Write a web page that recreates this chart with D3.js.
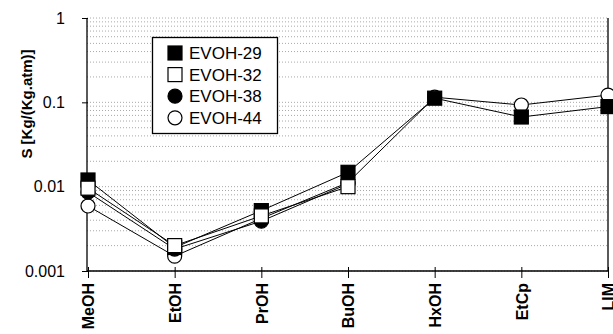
<!DOCTYPE html>
<html><head><meta charset="utf-8">
<script src="https://cdn.jsdelivr.net/npm/d3@7"></script>
<style>body{margin:0;background:#fff}svg{display:block}</style>
</head><body><svg id="c" width="613" height="334"></svg>
<script>
const categories = ["MeOH","EtOH","PrOH","BuOH","HxOH","EtCp","LIM"];
const seriesNames = ["EVOH-29","EVOH-32","EVOH-38","EVOH-44"];
const evoh29 = [0.012, 0.0019, 0.0052, 0.0148, 0.112, 0.067, 0.089];
const evoh32 = [0.0096, 0.0020, 0.0045, 0.0100, null, null, null];
const evoh38 = [0.0086, 0.00182, 0.0039, 0.0108, null, null, null];
const evoh44 = [0.0059, 0.0015, 0.0042, 0.0112, 0.115, 0.093, 0.122];
const yTicks = [0.001, 0.01, 0.1, 1];
const yTickLabels = ["0.001","0.01","0.1","1"];
const yTitle = "S [Kg/(Kg.atm)]";

const svg = d3.select("#c");
const L = 87, R = 608, T = 18, B = 271;
const x = d3.scalePoint().domain(categories).range([L+1, R]);
const y = d3.scaleLog().domain([0.001, 1]).range([B, T]);

// gridlines
const grid = [];
[0.001,0.01,0.1].forEach(d=>{for(let k=1;k<=9;k++) grid.push(d*k);});
grid.push(1);
svg.append("g").selectAll("line").data(grid).join("line")
  .attr("x1", L).attr("x2", R).attr("y1", d=>y(d)).attr("y2", d=>y(d))
  .attr("stroke", "#a8a8a8").attr("stroke-width", 1).attr("stroke-dasharray", "1 2");

// axes
const yAxis = svg.append("g").attr("transform", `translate(${L},0)`)
  .call(d3.axisLeft(y).tickValues(yTicks).tickFormat((d,i)=>yTickLabels[i]).tickSize(5).tickPadding(17));
yAxis.select(".domain").remove();
yAxis.selectAll(".tick line").attr("x2", -5).attr("x1", 1).attr("stroke","#000");
yAxis.selectAll("text").attr("font-family","Arial, 'Liberation Sans', sans-serif").attr("font-size","16px").attr("fill","#000");
svg.append("line").attr("x1",L).attr("x2",L).attr("y1",T).attr("y2",B).attr("stroke","#000").attr("stroke-width",1.3);
svg.append("line").attr("x1",R).attr("x2",R).attr("y1",T).attr("y2",B).attr("stroke","#000").attr("stroke-width",1.3);

const xAxis = svg.append("g").attr("transform", `translate(0,${B})`)
  .call(d3.axisBottom(x).tickSize(7));
xAxis.select(".domain").attr("stroke","#000").attr("stroke-width",1.3).attr("d", `M${L},0H${R}`);
xAxis.selectAll(".tick line").attr("y1",-4).attr("y2",7).attr("stroke","#000");
xAxis.selectAll("text")
  .attr("transform","rotate(-90)")
  .attr("text-anchor","end").attr("dy","0.36em").attr("x",-12).attr("y",0)
  .attr("font-family","Arial, 'Liberation Sans', sans-serif").attr("font-size","16px").attr("font-weight","bold").attr("fill","#000");

svg.append("text").attr("transform","translate(32,104) rotate(-90)")
  .attr("text-anchor","middle").attr("font-family","Arial, 'Liberation Sans', sans-serif")
  .attr("font-size","15px").attr("font-weight","bold").text(yTitle);

// series
const series = [
  {name:seriesNames[0], vals:evoh29, shape:"square", fill:"#000"},
  {name:seriesNames[1], vals:evoh32, shape:"square", fill:"#fff"},
  {name:seriesNames[2], vals:evoh38, shape:"circle", fill:"#000"},
  {name:seriesNames[3], vals:evoh44, shape:"circle", fill:"#fff"}
];
const line = d3.line().defined(d=>d.v!=null).x(d=>x(d.c)).y(d=>y(d.v));
series.forEach(s=>{
  svg.append("path").datum(categories.map((c,i)=>({c, v:s.vals[i]})))
    .attr("d", line).attr("fill","none").attr("stroke","#000").attr("stroke-width",1);
});
const S = 14;
function marker(g, s, cx, cy){
  if(s.shape==="square"){
    g.append("rect").attr("x",cx-S/2).attr("y",cy-S/2).attr("width",S).attr("height",S)
      .attr("fill",s.fill).attr("stroke","#000").attr("stroke-width",1.2);
  } else {
    g.append("circle").attr("cx",cx).attr("cy",cy).attr("r",S/2)
      .attr("fill",s.fill).attr("stroke","#000").attr("stroke-width",1.2);
  }
}
const order = [3,2,0,1];
const mg = svg.append("g");
order.forEach(k=>{
  const s = series[k];
  categories.forEach((c,i)=>{ if(s.vals[i]!=null) marker(mg, s, x(c), y(s.vals[i])); });
});

// legend
const lg = svg.append("g");
lg.append("rect").attr("x",152.5).attr("y",37.5).attr("width",125).attr("height",96)
  .attr("fill","#fff").attr("stroke","#000").attr("stroke-width",1.3);
series.forEach((s,i)=>{
  const cy = 53 + i*21.6;
  marker(lg, s, 175, cy);
  lg.append("text").attr("x",189).attr("y",cy).attr("dy","0.36em")
    .attr("font-family","Arial, 'Liberation Sans', sans-serif").attr("font-size","17px").text(s.name);
});
</script></body></html>
